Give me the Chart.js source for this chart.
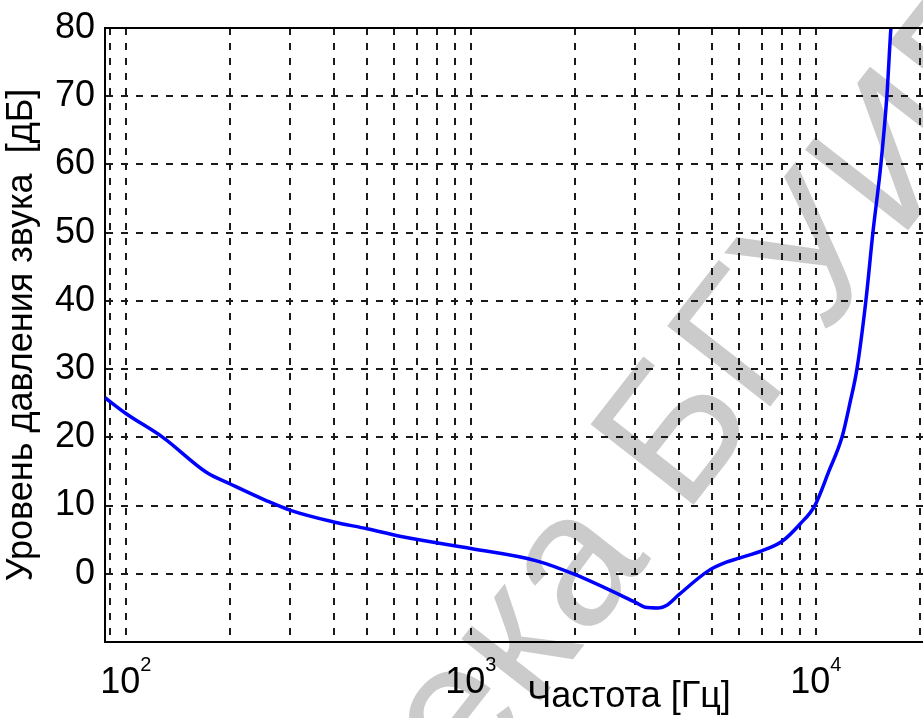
<!DOCTYPE html>
<html><head><meta charset="utf-8">
<script src="https://cdn.jsdelivr.net/npm/chart.js@4"></script>
<style>html,body{margin:0;padding:0;background:#fff}#wrap{width:923px;height:718px}</style>
</head><body><div id="wrap"><canvas id="c" width="923" height="718"></canvas></div>
<script>
// ---- data ----
const frequencies = [87, 100, 128, 172, 200, 256, 300, 400, 500, 622, 1000, 1550, 2000, 3000, 3200, 3500, 3700, 4000, 4900, 5500, 6000, 7000, 8000, 9000, 9930, 10900, 11900, 12550, 13150, 13960, 14630, 15430, 16060, 16500, 16900];
const levels      = [25.8, 23.5, 20.0, 14.8, 13.2, 10.7, 9.3, 7.6, 6.6, 5.5, 3.7, 1.9, -0.1, -4.2, -4.9, -5.0, -4.6, -3.1, 0.5, 1.7, 2.3, 3.4, 4.8, 7.3, 10.0, 15.0, 20.0, 25.0, 30.0, 40, 50, 60, 70, 80, 86];
const gridFrequencies = [90, 100, 200, 300, 400, 500, 600, 700, 800, 900, 1000, 2000, 3000, 4000, 5000, 6000, 7000, 8000, 9000, 10000, 20000];
const decadeTicks = [100, 1000, 10000];
const yTicks = [-10, 0, 10, 20, 30, 40, 50, 60, 70, 80];
const xRange = [87, 20440];
const yRange = [-10, 80];
const xTitle = 'Частота [Гц]';
const yTitle = 'Уровень давления звука  [дБ]';
const watermark = 'Библиотека БГУИР';
const watermarkHead = 'Библиотека ';

const FONT = '"Liberation Sans", Arial, sans-serif';

const decorations = {
  id: 'decorations',
  beforeDraw(chart) {
    const ctx = chart.ctx;
    ctx.save();
    ctx.fillStyle = '#fff';
    ctx.fillRect(0, 0, chart.width, chart.height);
    ctx.font = '190px ' + FONT;
    ctx.fillStyle = '#cbcbcb';
    ctx.translate(684, 517);
    ctx.rotate(-52 * Math.PI / 180);
    const w1 = ctx.measureText(watermarkHead).width;
    ctx.textBaseline = 'alphabetic';
    ctx.fillText(watermark, -w1, 0);
    ctx.restore();
  },
  afterDraw(chart) {
    const ctx = chart.ctx;
    const area = chart.chartArea;
    const xs = chart.scales.x;
    ctx.save();
    ctx.strokeStyle = '#000';
    ctx.lineWidth = 2;
    ctx.beginPath();
    ctx.moveTo(area.left, area.top);
    ctx.lineTo(area.right, area.top);
    ctx.stroke();
    ctx.fillStyle = '#000';
    ctx.textBaseline = 'alphabetic';
    ctx.textAlign = 'left';
    decadeTicks.forEach(v => {
      const px = xs.getPixelForValue(v);
      const exp = String(Math.round(Math.log10(v)));
      ctx.font = '36px ' + FONT;
      const wb = ctx.measureText('10').width;
      ctx.font = '20px ' + FONT;
      const we = ctx.measureText(exp).width;
      const x0 = px - (wb + we) / 2;
      ctx.font = '36px ' + FONT;
      ctx.fillText('10', x0, 693);
      ctx.font = '20px ' + FONT;
      ctx.fillText(exp, x0 + wb, 671);
    });
    ctx.font = '36px ' + FONT;
    ctx.textAlign = 'center';
    ctx.fillText(xTitle, 629, 707);
    ctx.restore();
  }
};

const gridStyle = { color: '#1a1a1a', lineWidth: 2, drawTicks: false };
const borderStyle = { display: true, color: '#000', width: 2, dash: [7, 8] };

new Chart(document.getElementById('c'), {
  type: 'line',
  data: {
    datasets: [{
      data: frequencies.map((f, i) => ({ x: f, y: levels[i] })),
      borderColor: '#0000ff',
      borderWidth: 3.5,
      pointRadius: 0,
      cubicInterpolationMode: 'monotone',
      fill: false
    }]
  },
  options: {
    responsive: false,
    animation: false,
    devicePixelRatio: 1,
    layout: { padding: { top: 27, left: 0, right: 0, bottom: 0 } },
    plugins: { legend: { display: false }, tooltip: { enabled: false } },
    scales: {
      x: {
        type: 'logarithmic',
        min: xRange[0],
        max: xRange[1],
        afterBuildTicks: s => { s.ticks = gridFrequencies.map(v => ({ value: v })); },
        ticks: { display: false },
        grid: gridStyle,
        border: borderStyle,
        afterFit: s => { s.height = 76; }
      },
      y: {
        type: 'linear',
        min: yRange[0],
        max: yRange[1],
        afterBuildTicks: s => { s.ticks = yTicks.map(v => ({ value: v })); },
        ticks: {
          color: '#000',
          padding: 10,
          font: { family: FONT, size: 36, lineHeight: 1 },
          callback: v => (v === yRange[0] ? '' : String(v))
        },
        grid: gridStyle,
        border: borderStyle,
        title: {
          display: true,
          text: yTitle,
          color: '#000',
          font: { family: FONT, size: 36 },
          padding: { top: 0, bottom: 0 }
        },
        afterFit: s => { s.width = 105; }
      }
    }
  },
  plugins: [decorations]
});
</script>
</body></html>
